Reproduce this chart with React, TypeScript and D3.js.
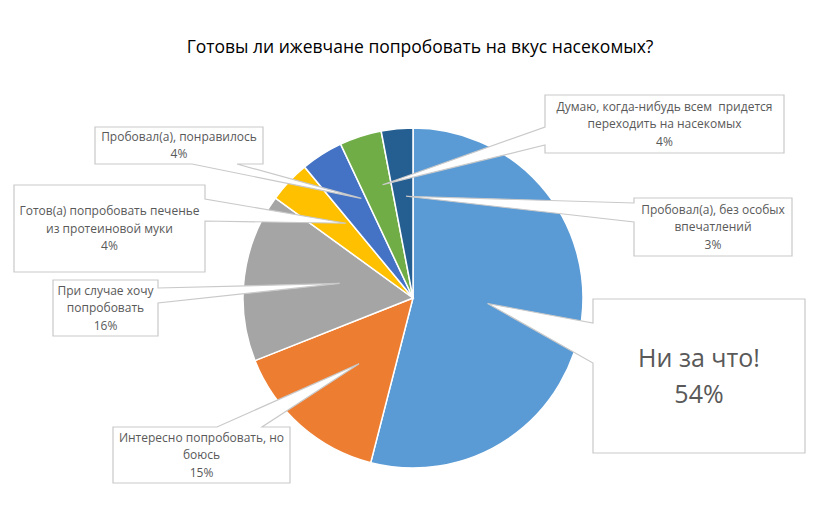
import React from "react";
import * as d3 from "d3";

const title = "Готовы ли ижевчане попробовать на вкус насекомых?";
const categories = [
  "Ни за что!",
  "Интересно попробовать, но боюсь",
  "При случае хочу попробовать",
  "Готов(а) попробовать печенье из протеиновой муки",
  "Пробовал(а), понравилось",
  "Думаю, когда-нибудь всем  придется переходить на насекомых",
  "Пробовал(а), без особых впечатлений",
];
const values = [54, 15, 16, 4, 4, 4, 3];
const colors = ["#5B9BD5", "#ED7D31", "#A5A5A5", "#FFC000", "#4472C4", "#70AD47", "#255E91"];
const labelLines = [
  ["Ни за что!"],
  ["Интересно попробовать, но", "боюсь"],
  ["При случае хочу", "попробовать"],
  ["Готов(а) попробовать печенье", "из протеиновой муки"],
  ["Пробовал(а), понравилось"],
  ["Думаю, когда-нибудь всем\u00A0 придется", "переходить на насекомых"],
  ["Пробовал(а), без особых", "впечатлений"],
];

// layout of callouts (annotation geometry)
type Side = "top" | "bottom" | "left" | "right";
const callouts: { x: number; y: number; w: number; h: number; side: Side; b0: number; b1: number; frac: number; off: number; fs: number; lh: number }[] = [
  { x: 593, y: 299, w: 212, h: 154, side: "left", b0: 323, b1: 363, frac: 0.44, off: -3, fs: 25, lh: 36 },
  { x: 113, y: 427, w: 177, h: 56, side: "top", b0: 217, b1: 262, frac: 0.5, off: -2, fs: 12, lh: 17.5 },
  { x: 53, y: 280, w: 105, h: 56, side: "right", b0: 288, b1: 303, frac: 0.44, off: 4, fs: 12, lh: 17.5 },
  { x: 14, y: 185, w: 191, h: 87, side: "right", b0: 199, b1: 221, frac: 0.59, off: 5, fs: 12, lh: 17.5 },
  { x: 95, y: 127, w: 168, h: 37, side: "bottom", b0: 192, b1: 237, frac: 0.66, off: 5, fs: 12, lh: 17.5 },
  { x: 545, y: 95, w: 239, h: 58, side: "left", b0: 127, b1: 145, frac: 0.69, off: 3, fs: 12, lh: 17.5 },
  { x: 634, y: 198, w: 158, h: 58, side: "left", b0: 203, b1: 222, frac: 0.6, off: 1.5, fs: 12, lh: 17.5 },
];

const W = 831, H = 520;
const cx = 413, cy = 298, R = 170;

function calloutPath(c: typeof callouts[number], tip: [number, number]) {
  const { x, y, w, h, side, b0, b1 } = c;
  const pts: [number, number][] = [];
  pts.push([x, y]);
  if (side === "top") pts.push([b0, y], tip, [b1, y]);
  pts.push([x + w, y]);
  if (side === "right") pts.push([x + w, b0], tip, [x + w, b1]);
  pts.push([x + w, y + h]);
  if (side === "bottom") pts.push([b1, y + h], tip, [b0, y + h]);
  pts.push([x, y + h]);
  if (side === "left") pts.push([x, b1], tip, [x, b0]);
  return "M" + pts.map((p) => p.join(",")).join("L") + "Z";
}

export default function App() {
  const pie = d3.pie<number>().sort(null).value((d) => d);
  const arcs = pie(values);
  const arc = d3.arc<d3.PieArcDatum<number>>().innerRadius(0).outerRadius(R);
  const font = "'Open Sans', sans-serif";
  return (
    <svg width={W} height={H} style={{ position: "absolute", left: 0, top: 0, background: "#fff" }}>
      <rect width={W} height={H} fill="#fff" />
      <text x={420} y={53} textAnchor="middle" fontFamily={font} fontSize={17.5} fill="#000">
        {title}
      </text>
      <g transform={`translate(${cx},${cy})`}>
        {arcs.map((a, i) => (
          <path key={i} d={arc(a) || ""} fill={colors[i]} stroke="#fff" strokeWidth={1.5} />
        ))}
      </g>
      {arcs.map((a, i) => {
        const c = callouts[i];
        const ang = (a.startAngle + a.endAngle) / 2 + (c.off * Math.PI) / 180;
        const tip: [number, number] = [cx + Math.sin(ang) * R * c.frac, cy - Math.cos(ang) * R * c.frac];
        const lines = [...labelLines[i], `${values[i]}%`];
        const total = (lines.length - 1) * c.lh;
        const midY = c.y + c.h / 2;
        return (
          <g key={"c" + i}>
            <path d={calloutPath(c, tip)} fill="#fff" stroke="#C9C9C9" strokeWidth={1.2} strokeLinejoin="miter" />
            <text textAnchor="middle" fontFamily={font} fontSize={c.fs} fill="#595959">
              {lines.map((l, j) => (
                <tspan key={j} x={c.x + c.w / 2} y={midY - total / 2 + j * c.lh + c.fs * 0.35}>
                  {l}
                </tspan>
              ))}
            </text>
          </g>
        );
      })}
    </svg>
  );
}
